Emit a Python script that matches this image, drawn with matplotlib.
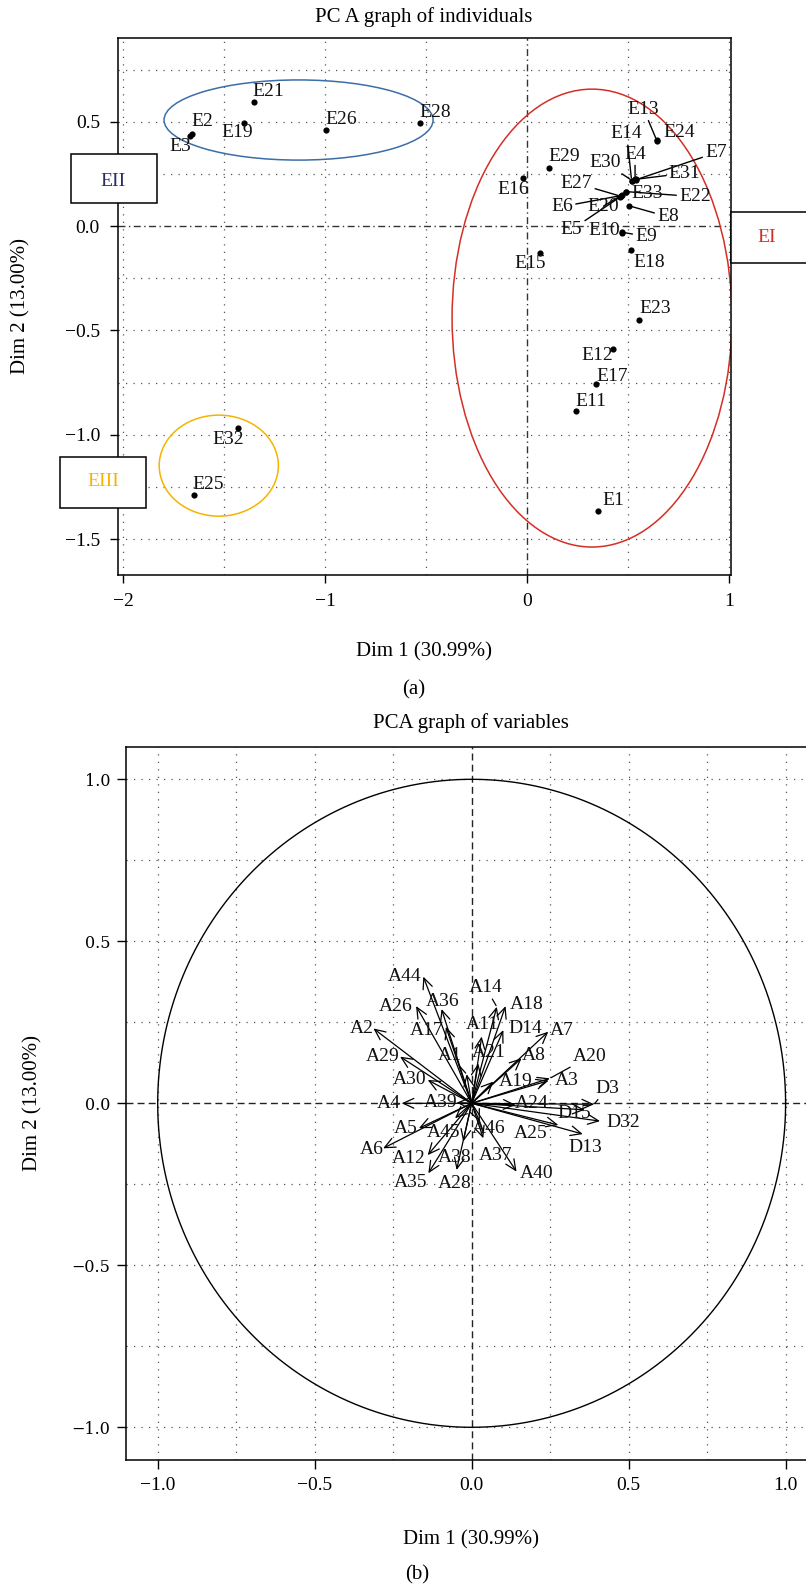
import numpy as np
import matplotlib
matplotlib.use('Agg')
import matplotlib.pyplot as plt
from matplotlib.patches import Ellipse, Rectangle

plt.rcParams['font.family'] = ['Liberation Serif', 'DejaVu Serif']
plt.rcParams['axes.unicode_minus'] = True

# ---------------- data: individuals (panel a) ----------------
ind_names = ['E1', 'E2', 'E3', 'E4', 'E5', 'E6', 'E7', 'E8', 'E9', 'E10', 'E11',
             'E12', 'E13', 'E14', 'E15', 'E16', 'E17', 'E18', 'E19', 'E20', 'E21',
             'E22', 'E23', 'E24', 'E25', 'E26', 'E27', 'E28', 'E29', 'E30', 'E31',
             'E32', 'E33']
ind_dim1 = [0.350, -1.660, -1.670, 0.535, 0.462, 0.466, 0.540, 0.505, 0.471, 0.469, 0.245,
            0.425, 0.642, 0.518, 0.064, -0.018, 0.340, 0.515, -1.401, 0.468, -1.351,
            0.490, 0.555, 0.644, -1.651, -0.995, 0.463, -0.530, 0.109, 0.520, 0.538,
            -1.431, 0.489]
ind_dim2 = [-1.364, 0.440, 0.430, 0.225, 0.140, 0.146, 0.222, 0.097, -0.030, -0.032, -0.888,
            -0.587, 0.411, 0.217, -0.128, 0.228, -0.757, -0.113, 0.494, 0.148, 0.593,
            0.165, -0.451, 0.409, -1.290, 0.459, 0.143, 0.496, 0.279, 0.218, 0.224,
            -0.969, 0.164]

group_names = ['EI', 'EII', 'EIII']
group_colors = ['#d42e26', '#3b6ea8', '#f5b400']
group_text_colors = ['#d42e26', '#2b2d6b', '#f5b400']
# ellipse centres and full axes (Dim1, Dim2)
group_cx = [0.322, -1.131, -1.526]
group_cy = [-0.441, 0.508, -1.148]
group_w = [1.386, 1.332, 0.590]
group_h = [2.194, 0.384, 0.484]

# ---------------- data: variables (panel b) ----------------
var_names = ['A44', 'A26', 'A36', 'A2', 'A17', 'A11', 'D14', 'A18', 'A14', 'A7', 'A29',
             'A1', 'A21', 'A8', 'A20', 'A30', 'A19', 'A3', 'A4', 'A39', 'A24', 'D3',
             'D15', 'D32', 'D13', 'A25', 'A46', 'A37', 'A40', 'A38', 'A28', 'A35',
             'A12', 'A45', 'A5', 'A6']
var_dim1 = [-0.154, -0.177, -0.096, -0.313, -0.082, 0.032, 0.101, 0.108, 0.080, 0.244, -0.228,
            -0.016, 0.021, 0.159, 0.249, -0.140, 0.069, 0.245, -0.223, -0.048, 0.140, 0.390,
            0.360, 0.409, 0.354, 0.276, 0.026, 0.037, 0.143, -0.027, -0.048, -0.138,
            -0.140, -0.053, -0.168, -0.282]
var_dim2 = [0.391, 0.300, 0.291, 0.231, 0.236, 0.206, 0.226, 0.300, 0.298, 0.221, 0.144,
            0.090, 0.123, 0.139, 0.077, 0.072, 0.067, 0.070, 0.000, 0.002, -0.005, -0.003,
            -0.020, -0.055, -0.095, -0.067, -0.057, -0.108, -0.211, -0.118, -0.206, -0.216,
            -0.160, -0.046, -0.077, -0.139]

top_xticks = [-2, -1, 0, 1]
top_xticklabels = ['\u22122', '\u22121', '0', '1']
top_yticks = [-1.5, -1.0, -0.5, 0.0, 0.5]
top_yticklabels = ['\u22121.5', '\u22121.0', '\u22120.5', '0.0', '0.5']
bot_ticks = [-1.0, -0.5, 0.0, 0.5, 1.0]
bot_ticklabels = ['\u22121.0', '\u22120.5', '0.0', '0.5', '1.0']

# ---------------- layout (label offsets in pixels: right, down; flag = leader line) ----------------
ind_label_layout = {
    'E1': (16, -10, 0), 'E2': (11, -13, 0), 'E3': (-9, 10, 0), 'E4': (0, -25, 1),
    'E5': (-49, 33, 1), 'E6': (-59, 11, 1), 'E7': (80, -27, 1), 'E8': (39, 11, 1),
    'E9': (24, 4, 1), 'E10': (-18, -2, 0), 'E11': (14, -10, 0), 'E12': (-16, 7, 0),
    'E13': (-13, -31, 1), 'E14': (-5, -47, 1), 'E15': (-10, 11, 0), 'E16': (-10, 11, 0),
    'E17': (17, -8, 0), 'E18': (18, 13, 0), 'E19': (-7, 10, 0), 'E20': (-18, 11, 1),
    'E21': (14, -11, 0), 'E22': (69, 5, 1), 'E23': (16, -12, 0), 'E24': (22, -8, 0),
    'E25': (15, -11, 0), 'E26': (15, -11, 0), 'E27': (-44, -13, 1), 'E28': (15, -10, 0),
    'E29': (15, -11, 0), 'E30': (-27, -18, 1), 'E31': (49, -6, 1), 'E32': (-10, 11, 0),
    'E33': (21, 2, 0),
}
var_label_layout = {
    'A44': (-19, 0, 0), 'A26': (-20, 0, 0), 'A36': (1, -8, 0), 'A2': (-12, 0, 0),
    'A17': (-19, 4, 0), 'A11': (1, -12, 0), 'D14': (22, -2, 0), 'A18': (21, -2, 0),
    'A14': (-11, -19, 1), 'A7': (13, -1, 0), 'A29': (-17, 0, 0), 'A1': (-17, -19, 1),
    'A21': (11, -11, 0), 'A8': (12, -3, 0), 'A20': (40, -22, 1), 'A30': (-18, 0, 0),
    'A19': (22, 0, 0), 'A3': (18, 0, 0), 'A4': (-13, 0, 0), 'A39': (-16, 0, 0),
    'A24': (16, -1, 0), 'D3': (13, -16, 1), 'D15': (-10, 4, 0), 'D32': (23, 1, 0),
    'D13': (2, 13, 0), 'A25': (-28, 8, 0), 'A46': (9, 7, 0), 'A37': (12, 17, 0),
    'A40': (20, 2, 0), 'A38': (-9, 16, 0), 'A28': (-2, 13, 0), 'A35': (-18, 9, 0),
    'A12': (-19, 3, 0), 'A45': (-11, 14, 0), 'A5': (-13, 0, 0), 'A6': (-11, 1, 0),
}
# group boxes in figure pixels: left, top, right, bottom, text x, text y
group_boxes = {
    'EI': (731, 212, 830, 263, 767, 237),
    'EII': (71, 154, 157, 203, 113.5, 181),
    'EIII': (60, 457, 146, 508, 103, 482),
}

W, H = 806, 1587
fig = plt.figure(figsize=(W / 100, H / 100), dpi=100)


def fx(px):
    return px / W


def fy(py):
    return 1 - py / H


FS = 14
GRID = dict(color='#555555', lw=0.9, ls=(0, (1, 5)), zorder=0)

# ================= panel (a) =================
ax1 = fig.add_axes([fx(118), fy(575), fx(731) - fx(118), fy(38) - fy(575)])
ax1.set_xlim(-2.025, 1.010)
ax1.set_ylim(-1.672, 0.901)
for gx in [-2, -1.5, -1, -0.5, 0.5, 1]:
    ax1.axvline(gx, **GRID)
for gy in [-1.5, -1.25, -1.0, -0.75, -0.5, -0.25, 0.25, 0.5, 0.75]:
    ax1.axhline(gy, **GRID)
ax1.axhline(0, color='#333333', lw=1.0, ls=(0, (5, 2.5, 1, 2.5)), zorder=1)
ax1.axvline(0, color='#333333', lw=1.0, ls=(0, (5, 2.5, 1, 2.5)), zorder=1)

for cx, cy, w, h, col in zip(group_cx, group_cy, group_w, group_h, group_colors):
    ax1.add_patch(Ellipse((cx, cy), w, h, fill=False, ec=col, lw=1.1, zorder=2))

ax1.scatter(ind_dim1, ind_dim2, s=20, c='black', zorder=5, linewidths=0)
for name, x, y in zip(ind_names, ind_dim1, ind_dim2):
    dx, dy, line = ind_label_layout[name]
    ap = dict(arrowstyle='-', color='black', lw=1.0, shrinkA=0, shrinkB=2) if line else None
    ax1.annotate(name, (x, y), xytext=(dx, -dy), textcoords='offset pixels',
                 ha='center', va='center', fontsize=FS, color='#111111',
                 arrowprops=ap, zorder=6)

ax1.set_xticks(top_xticks)
ax1.set_xticklabels(top_xticklabels)
ax1.set_yticks(top_yticks)
ax1.set_yticklabels(top_yticklabels)
ax1.tick_params(direction='out', length=6, width=1.0, labelsize=FS, pad=7)
for sp in ax1.spines.values():
    sp.set_linewidth(1.1)

# group boxes
for gname, tcol in zip(group_names, group_text_colors):
    l, t, r, b, tx, ty = group_boxes[gname]
    rect = Rectangle((fx(l), fy(b)), fx(r) - fx(l), fy(t) - fy(b), transform=fig.transFigure,
                     fc='white', ec='black', lw=1.1, zorder=20)
    fig.add_artist(rect)
    fig.text(fx(tx), fy(ty), gname, ha='center', va='center', fontsize=FS, color=tcol, zorder=21)

fig.text(fx(424), fy(17), 'PC A graph of individuals', ha='center', va='center', fontsize=15)
fig.text(fx(424), fy(652), 'Dim 1 (30.99%)', ha='center', va='center', fontsize=15)
fig.text(fx(414), fy(690), '(a)', ha='center', va='center', fontsize=15)
fig.text(fx(21), fy(306), 'Dim 2 (13.00%)', ha='center', va='center', fontsize=15, rotation=90)

# ================= panel (b) =================
ax2 = fig.add_axes([fx(126.3), fy(1459.7), fx(817) - fx(126.3), fy(746.9) - fy(1459.7)])
ax2.set_xlim(-1.1, 1.1)
ax2.set_ylim(-1.1, 1.1)
for g in [-1.0, -0.75, -0.5, -0.25, 0.25, 0.5, 0.75, 1.0]:
    ax2.axvline(g, **GRID)
    ax2.axhline(g, **GRID)
ax2.axhline(0, color='#222222', lw=1.0, ls=(0, (5, 3)), zorder=1)
ax2.axvline(0, color='#222222', lw=1.0, ls=(0, (5, 3)), zorder=1)

theta = np.linspace(0, 2 * np.pi, 500)
ax2.plot(np.cos(theta), np.sin(theta), color='black', lw=1.0, zorder=2)

for name, x, y in zip(var_names, var_dim1, var_dim2):
    ax2.annotate('', xy=(x, y), xytext=(0, 0),
                 arrowprops=dict(arrowstyle='->,head_length=0.55,head_width=0.25',
                                 color='black', lw=0.9, shrinkA=0, shrinkB=0,
                                 mutation_scale=14), zorder=3)
for name, x, y in zip(var_names, var_dim1, var_dim2):
    dx, dy, line = var_label_layout[name]
    ap = dict(arrowstyle='-', color='black', lw=0.9, shrinkA=0, shrinkB=1) if line else None
    ax2.annotate(name, (x, y), xytext=(dx, -dy), textcoords='offset pixels',
                 ha='center', va='center', fontsize=FS, color='#111111',
                 arrowprops=ap, zorder=4)

ax2.set_xticks(bot_ticks)
ax2.set_xticklabels(bot_ticklabels)
ax2.set_yticks(bot_ticks)
ax2.set_yticklabels(bot_ticklabels, fontfamily='DejaVu Serif', fontsize=11.5)
ax2.tick_params(axis='x', direction='out', length=6.5, width=1.0, labelsize=FS, pad=6)
ax2.tick_params(axis='y', direction='out', length=6.5, width=1.0, pad=5)
for sp in ax2.spines.values():
    sp.set_linewidth(1.1)

fig.text(fx(471), fy(723), 'PCA graph of variables', ha='center', va='center', fontsize=15)
fig.text(fx(471), fy(1540), 'Dim 1 (30.99%)', ha='center', va='center', fontsize=15)
fig.text(fx(417), fy(1575), '(b)', ha='center', va='center', fontsize=15)
fig.text(fx(33), fy(1103), 'Dim 2 (13.00%)', ha='center', va='center', fontsize=15, rotation=90)

fig.savefig('out.png', dpi=100, facecolor='white')
